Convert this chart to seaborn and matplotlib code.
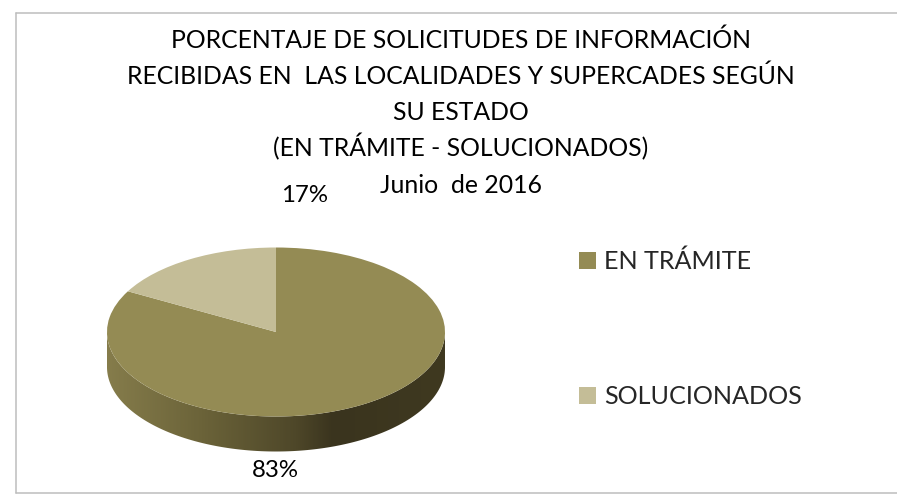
import numpy as np
import matplotlib
matplotlib.use('Agg')
import matplotlib.pyplot as plt
import seaborn as sns
from matplotlib.lines import Line2D
from matplotlib.patches import Polygon, Patch

estados = ["EN TRÁMITE", "SOLUCIONADOS"]
porcentajes = [83, 17]
colores = ["#948b54", "#c4bd97"]
etiquetas = ["83%", "17%"]
titulo = ["PORCENTAJE DE SOLICITUDES DE INFORMACIÓN",
          "RECIBIDAS EN  LAS LOCALIDADES Y SUPERCADES SEGÚN",
          "SU ESTADO",
          "(EN TRÁMITE - SOLUCIONADOS)",
          "Junio  de 2016"]

W, H = 897, 494
FS_TITULO = 17.8
FS_VALOR = 17.3
FS_LEYENDA = 18.1

sns.set_theme(style="white")
plt.rcParams['font.family'] = ['Lato', 'DejaVu Sans']


def box(x0, y0, x1, y1):
    # pixel box (y from the top) to figure fractions
    return [x0 / W, 1 - y1 / H, (x1 - x0) / W, (y1 - y0) / H]


def texto(x, y, s, fs):
    # x, baseline y in pixels from the top
    fig.text(x / W, 1 - y / H, s, ha='center', va='baseline', fontsize=fs, color='black')


fig = plt.figure(figsize=(W / 100, H / 100), dpi=100)
fig.patch.set_facecolor('white')

# chart frame, open on the right where the picture is cropped
for xs, ys in [([16, 16], [13, 493]), ([16, W], [13, 13]), ([16, W], [493, 493])]:
    fig.add_artist(Line2D([x / W for x in xs], [1 - y / H for y in ys],
                          transform=fig.transFigure, color='#bdbdbd', linewidth=1.1))

# pie: unit circle stretched to 169 x 84.5 px, with 35 px of depth below
cx, cy, rx, ry, depth = 276, 332, 169, 84.5, 35
ax = fig.add_axes(box(cx - rx, cy - ry, cx + rx, cy + ry + depth))
wedges, _ = ax.pie(porcentajes, colors=colores, startangle=90, counterclock=False,
                   radius=1, wedgeprops={'linewidth': 0})
d = depth / ry
ax.set_aspect('auto')
ax.axis('off')

# side of the disc, lower half of the ellipse pushed down by the depth
t = np.linspace(np.pi, 2 * np.pi, 200)
borde = np.column_stack([np.cos(t), np.sin(t)])
lado = np.vstack([borde, (borde - [0, d])[::-1]])
sombra = sns.blend_palette(["#857c4b", "#6b6339", "#4e4729", "#3a341e", "#3f3920"],
                           n_colors=256, as_cmap=True)
xs = np.linspace(0, 1, 256)
img = ax.imshow(np.interp(xs, [0, 0.28, 0.56, 0.67, 1.0], [0, 0.25, 0.5, 0.75, 1.0])[None, :],
                extent=[-1, 1, -1 - d, 0], cmap=sombra, aspect='auto', zorder=0)
img.set_clip_path(Polygon(lado, transform=ax.transData))
ax.set_xlim(-1, 1)
ax.set_ylim(-1 - d, 1)

# title and value labels
for i, linea in enumerate(titulo):
    texto(461, 48 + 36.25 * i, linea, FS_TITULO)
texto(305, 202, etiquetas[1], FS_VALOR)
texto(275, 477, etiquetas[0], FS_VALOR)

# legend
handles = [Patch(facecolor=c, edgecolor='none') for c in colores]
fig.legend(handles, estados, loc='center left', bbox_to_anchor=(579 / W, 1 - 329 / H),
           frameon=False, fontsize=FS_LEYENDA, borderpad=0, borderaxespad=0,
           handlelength=12.2 / FS_LEYENDA, handleheight=12.2 / FS_LEYENDA, handletextpad=0.33,
           labelspacing=4.45)

fig.savefig('out.png', dpi=100)
